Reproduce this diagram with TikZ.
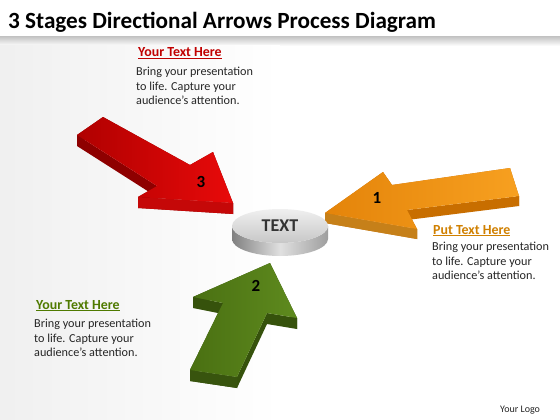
\documentclass[tikz,border=0pt]{standalone}
\usepackage{fontspec}
\setmainfont{Carlito}
\usetikzlibrary{calc}
\definecolor{redtop}{HTML}{E80A0A}
\definecolor{redtopd}{HTML}{B00000}
\definecolor{redside}{HTML}{8E0000}
\definecolor{ortop}{HTML}{F7A020}
\definecolor{ortopd}{HTML}{E4840A}
\definecolor{orside}{HTML}{C86E00}
\definecolor{grtop}{HTML}{5E8A1E}
\definecolor{grtopd}{HTML}{4A7012}
\definecolor{grside}{HTML}{36520C}
\definecolor{redtxt}{HTML}{C00000}
\definecolor{ortxt}{HTML}{D08000}
\definecolor{grtxt}{HTML}{4F7A00}
\definecolor{bodytxt}{HTML}{262626}
\tikzset{
  bodytext/.style={anchor=north west,align=left,inner sep=0pt,font=\fontsize{12.2}{14.6}\selectfont,text=bodytxt},
  headtext/.style={anchor=base west,inner sep=0pt,font=\fontsize{13.9}{15}\selectfont\bfseries},
  numlabel/.style={inner sep=0pt,font=\fontsize{17}{17}\selectfont\bfseries,text=black},
}
\begin{document}
\begin{tikzpicture}[x=1pt,y=-1pt]
\useasboundingbox (0,0) rectangle (560,420);
\fill[white] (0,0) rectangle (560,420);
\shade[top color=black!22,bottom color=white] (0,37) rectangle (560,46);
\shade[left color=black!6,right color=white] (0,46) rectangle (280,420);
\node[anchor=base west,inner sep=0pt,font=\fontsize{23.2}{25}\selectfont\bfseries] (title) at (8,29) {3 Stages Directional Arrows Process Diagram};

% ---------- red arrow ----------
\coordinate (r1) at (77,135);
\coordinate (r2) at (103,117);
\coordinate (r3) at (190,165);
\coordinate (r4) at (213,152);
\coordinate (r5) at (233,203);
\coordinate (r6) at (138,197);
\coordinate (r7) at (157,186);
\foreach \i/\j in {1/2,2/3,3/4,4/5,5/6,6/7,7/1}
  \fill[redside] (r\i) -- (r\j) -- ([yshift=-11pt]r\j) -- ([yshift=-11pt]r\i) -- cycle;
\fill[redtop!85!black] (r5) -- (r6) -- ([yshift=-11pt]r6) -- ([yshift=-11pt]r5) -- cycle;
\shade[left color=redtopd,right color=redtop] (r1) -- (r2) -- (r3) -- (r4) -- (r5) -- (r6) -- (r7) -- cycle;
\node[numlabel] (n3) at (201,182) {3};

% ---------- orange arrow ----------
\coordinate (o1) at (325,213);
\coordinate (o2) at (383,172);
\coordinate (o3) at (392,185);
\coordinate (o4) at (510,168);
\coordinate (o5) at (519,196);
\coordinate (o6) at (407,210);
\coordinate (o7) at (417,229);
\foreach \i/\j in {1/2,2/3,3/4,4/5,5/6,6/7,7/1}
  \fill[orside] (o\i) -- (o\j) -- ([yshift=-10pt]o\j) -- ([yshift=-10pt]o\i) -- cycle;
\fill[ortop!80!black] (o7) -- (o1) -- ([yshift=-10pt]o1) -- ([yshift=-10pt]o7) -- cycle;
\shade[left color=ortopd,right color=ortop] (o1) -- (o2) -- (o3) -- (o4) -- (o5) -- (o6) -- (o7) -- cycle;
\node[numlabel] (n1) at (377,198) {1};

% ---------- central disc ----------
\shade[left color=black!50,right color=black!38,middle color=black!12]
  (232,226) -- (232,239) arc[start angle=180,end angle=360,x radius=48pt,y radius=17pt]
  -- (328,226) arc[start angle=0,end angle=-180,x radius=48pt,y radius=17pt] -- cycle;
\shade[top color=black!6,bottom color=black!22] (280,226) ellipse [x radius=48pt,y radius=17pt];
\node[inner sep=0pt,font=\fontsize{18}{18}\selectfont\bfseries,text=black!80] (center) at (280,226) {TEXT};

% ---------- green arrow ----------
\coordinate (g1) at (270,263);
\coordinate (g2) at (297,318);
\coordinate (g3) at (267,313);
\coordinate (g4) at (237,377);
\coordinate (g5) at (190,370);
\coordinate (g6) at (223,303);
\coordinate (g7) at (193,297);
\foreach \i/\j in {1/2,2/3,3/4,4/5,5/6,6/7,7/1}
  \fill[grside] (g\i) -- (g\j) -- ([yshift=-11pt]g\j) -- ([yshift=-11pt]g\i) -- cycle;
\fill[grtopd!75!black] (g4) -- (g5) -- ([yshift=-11pt]g5) -- ([yshift=-11pt]g4) -- cycle;
\shade[left color=grtopd,right color=grtop] (g1) -- (g2) -- (g3) -- (g4) -- (g5) -- (g6) -- (g7) -- cycle;
\node[numlabel] (n2) at (256,286) {2};

% ---------- texts ----------
\node[headtext,text=redtxt] (h3) at (138,57) {\underline{Your Text Here}};
\node[bodytext] (b3) at (136,67) {Bring your presentation\\to life. Capture your\\audience’s attention.};

\node[headtext,text=ortxt] (h1) at (433,234) {\underline{Put Text Here}};
\node[bodytext] (b1) at (432,242) {Bring your presentation\\to life. Capture your\\audience’s attention.};

\node[headtext,text=grtxt] (h2) at (36,309) {\underline{Your Text Here}};
\node[bodytext] (b2) at (34,319) {Bring your presentation\\to life. Capture your\\audience’s attention.};

\node[anchor=base west,inner sep=0pt,font=\fontsize{10}{12}\selectfont,text=black!85] (logo) at (500,412) {Your Logo};
\end{tikzpicture}
\end{document}
